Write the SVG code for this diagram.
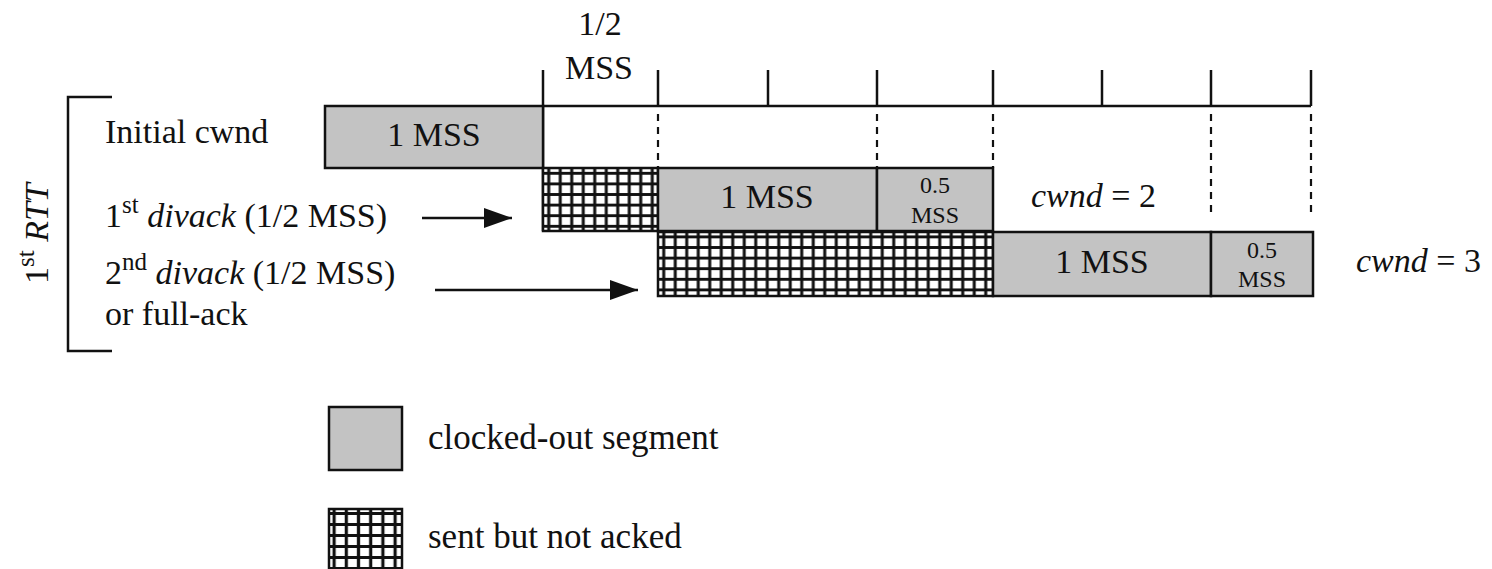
<svg xmlns="http://www.w3.org/2000/svg" width="1492" height="569" viewBox="0 0 1492 569">
<style>
text{font-family:"Liberation Serif","Times New Roman",serif;fill:#111}
.lbl{font-size:34px}
.sm{font-size:24px}
.sup{font-size:25px}
.it{font-style:italic}
.box{stroke:#111;stroke-width:2.5}
.gray{fill:#c3c3c3}
.ln{stroke:#111;stroke-width:2.5;fill:none}
.dot{stroke:#111;stroke-width:2.2;stroke-dasharray:7 6;fill:none}
</style>
<defs>
<pattern id="hatch" patternUnits="userSpaceOnUse" x="543" y="168" width="11.5" height="10.6">
<rect width="11.5" height="10.6" fill="#fff"/>
<path d="M5.75 0V10.6M0 5.3H11.5" stroke="#111" stroke-width="3" fill="none"/>
</pattern>
<pattern id="hatchL" patternUnits="userSpaceOnUse" x="328" y="508" width="12.2" height="11">
<rect width="12.2" height="11" fill="#fff"/>
<path d="M6.1 0V11M0 5.5H12.2" stroke="#111" stroke-width="3.2" fill="none"/>
</pattern>
<marker id="arr" markerUnits="userSpaceOnUse" markerWidth="30" markerHeight="22" refX="28" refY="10" orient="auto">
<path d="M0 0L28 10L0 20Z" fill="#111"/>
</marker>
</defs>

<g id="axis">
<line class="ln" x1="543" y1="106" x2="1311" y2="106"/>
<line class="ln" x1="543" y1="70" x2="543" y2="231"/>
<line class="ln" x1="658" y1="70" x2="658" y2="106"/>
<line class="ln" x1="768" y1="70" x2="768" y2="106"/>
<line class="ln" x1="877" y1="70" x2="877" y2="106"/>
<line class="ln" x1="993" y1="70" x2="993" y2="106"/>
<line class="ln" x1="1102" y1="70" x2="1102" y2="106"/>
<line class="ln" x1="1211" y1="70" x2="1211" y2="106"/>
<line class="ln" x1="1311" y1="70" x2="1311" y2="106"/>
<line class="dot" x1="658" y1="114" x2="658" y2="168"/>
<line class="dot" x1="877" y1="114" x2="877" y2="168"/>
<line class="dot" x1="993" y1="114" x2="993" y2="168"/>
<line class="dot" x1="1211" y1="114" x2="1211" y2="216"/>
<line class="dot" x1="1311" y1="114" x2="1311" y2="218"/>
<text class="lbl" x="600" y="35" text-anchor="middle">1/2</text>
<text class="lbl" x="599" y="79" text-anchor="middle">MSS</text>
</g>

<g id="bracket">
<polyline class="ln" points="112,97 68,97 68,351 112,351" stroke-width="3"/>
<text transform="translate(48,284) rotate(-90)" style="font-size:34px">1<tspan dy="-14" class="sup">st</tspan><tspan dy="14" class="it"> RTT</tspan></text>
</g>

<g id="labels">
<text class="lbl" x="105" y="143">Initial cwnd</text>
<text class="lbl" x="105" y="227">1<tspan dy="-14" class="sup">st</tspan><tspan dy="14" class="it"> divack</tspan> (1/2 MSS)</text>
<text class="lbl" x="105" y="284">2<tspan dy="-14" class="sup">nd</tspan><tspan dy="14" class="it"> divack</tspan> (1/2 MSS)</text>
<text class="lbl" x="105" y="325">or full-ack</text>
</g>

<g id="row1">
<rect class="box gray" x="325" y="106" width="218" height="62"/>
<text class="lbl" x="434" y="146" text-anchor="middle">1 MSS</text>
</g>

<g id="row2">
<rect class="box" x="543" y="168" width="115" height="63" fill="url(#hatch)"/>
<rect class="box gray" x="658" y="168" width="219" height="63"/>
<text class="lbl" x="767" y="208" text-anchor="middle">1 MSS</text>
<rect class="box gray" x="877" y="168" width="116" height="63"/>
<text class="sm" x="935" y="193" text-anchor="middle">0.5</text>
<text class="sm" x="935" y="223" text-anchor="middle">MSS</text>
<text class="lbl" x="1031" y="207"><tspan class="it">cwnd</tspan> = 2</text>
</g>

<g id="row3">
<rect class="box" x="658" y="232" width="335" height="64" fill="url(#hatch)"/>
<rect class="box gray" x="993" y="232" width="218" height="64"/>
<text class="lbl" x="1102" y="273" text-anchor="middle">1 MSS</text>
<rect class="box gray" x="1211" y="232" width="102" height="64"/>
<text class="sm" x="1262" y="258" text-anchor="middle">0.5</text>
<text class="sm" x="1262" y="287" text-anchor="middle">MSS</text>
<text class="lbl" x="1356" y="272"><tspan class="it">cwnd</tspan> = 3</text>
</g>

<g id="connectors">
<line class="ln" x1="422" y1="218" x2="512" y2="218" marker-end="url(#arr)"/>
<line class="ln" x1="435" y1="290" x2="638" y2="290" marker-end="url(#arr)"/>
</g>

<g id="legend">
<rect class="box gray" x="329" y="407" width="73" height="63"/>
<text style="font-size:35px" x="428" y="449">clocked-out segment</text>
<rect class="box" x="329" y="509" width="73" height="70" fill="url(#hatchL)"/>
<text style="font-size:35px" x="428" y="548">sent but not acked</text>
</g>
</svg>
